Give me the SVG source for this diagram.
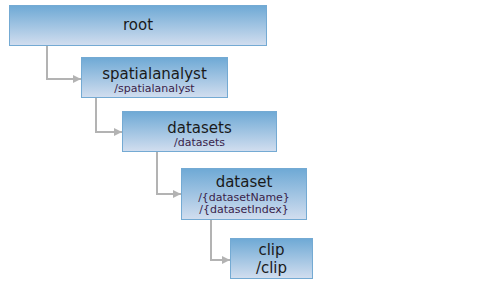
<svg xmlns="http://www.w3.org/2000/svg" width="480" height="288" viewBox="0 0 480 288">
<defs>
<linearGradient id="g" x1="0" y1="0" x2="0" y2="1">
<stop offset="0" stop-color="#6ea9d5"/>
<stop offset="1" stop-color="#d2deef"/>
</linearGradient>
<marker id="arr" viewBox="0 0 8 8" refX="8" refY="4" markerWidth="8" markerHeight="8" markerUnits="userSpaceOnUse" orient="auto">
<path d="M0,0 L8,4 L0,8 Z" fill="#b3b3b3"/>
</marker>
</defs>
<style>
.box{fill:url(#g);stroke:#74aad3;stroke-width:1}
.t{font-family:"DejaVu Sans",Verdana,sans-serif;font-size:15px;fill:#1a1a1a;text-anchor:middle}
.s{font-family:"DejaVu Sans",Verdana,sans-serif;font-size:11px;fill:#3a1e4a;text-anchor:middle}
.c{fill:none;stroke:#b3b3b3;stroke-width:2}
</style>
<rect width="480" height="288" fill="#ffffff"/>
<g id="connectors">
<path class="c" d="M47,45 V79 H81" marker-end="url(#arr)"/>
<path class="c" d="M96,98 V132 H122" marker-end="url(#arr)"/>
<path class="c" d="M157,152 V194 H181" marker-end="url(#arr)"/>
<path class="c" d="M211,220 V260 H230" marker-end="url(#arr)"/>
</g>
<g id="root">
<rect class="box" x="9.5" y="5.5" width="257" height="40"/>
<text class="t" x="138" y="30">root</text>
</g>
<g id="spatialanalyst">
<rect class="box" x="81.5" y="57.5" width="146" height="40"/>
<text class="t" x="154.5" y="79">spatialanalyst</text>
<text class="s" x="154.5" y="92">/spatialanalyst</text>
</g>
<g id="datasets">
<rect class="box" x="122.5" y="111.5" width="154" height="40"/>
<text class="t" x="199.5" y="133">datasets</text>
<text class="s" x="199.5" y="146">/datasets</text>
</g>
<g id="dataset">
<rect class="box" x="181.5" y="168.5" width="125" height="51"/>
<text class="t" x="244" y="187">dataset</text>
<text class="s" x="244" y="201">/{datasetName}</text>
<text class="s" x="244" y="213">/{datasetIndex}</text>
</g>
<g id="clip">
<rect class="box" x="230.5" y="238.5" width="82" height="40"/>
<text class="t" x="271.5" y="255">clip</text>
<text class="t" x="271.5" y="273">/clip</text>
</g>
</svg>
